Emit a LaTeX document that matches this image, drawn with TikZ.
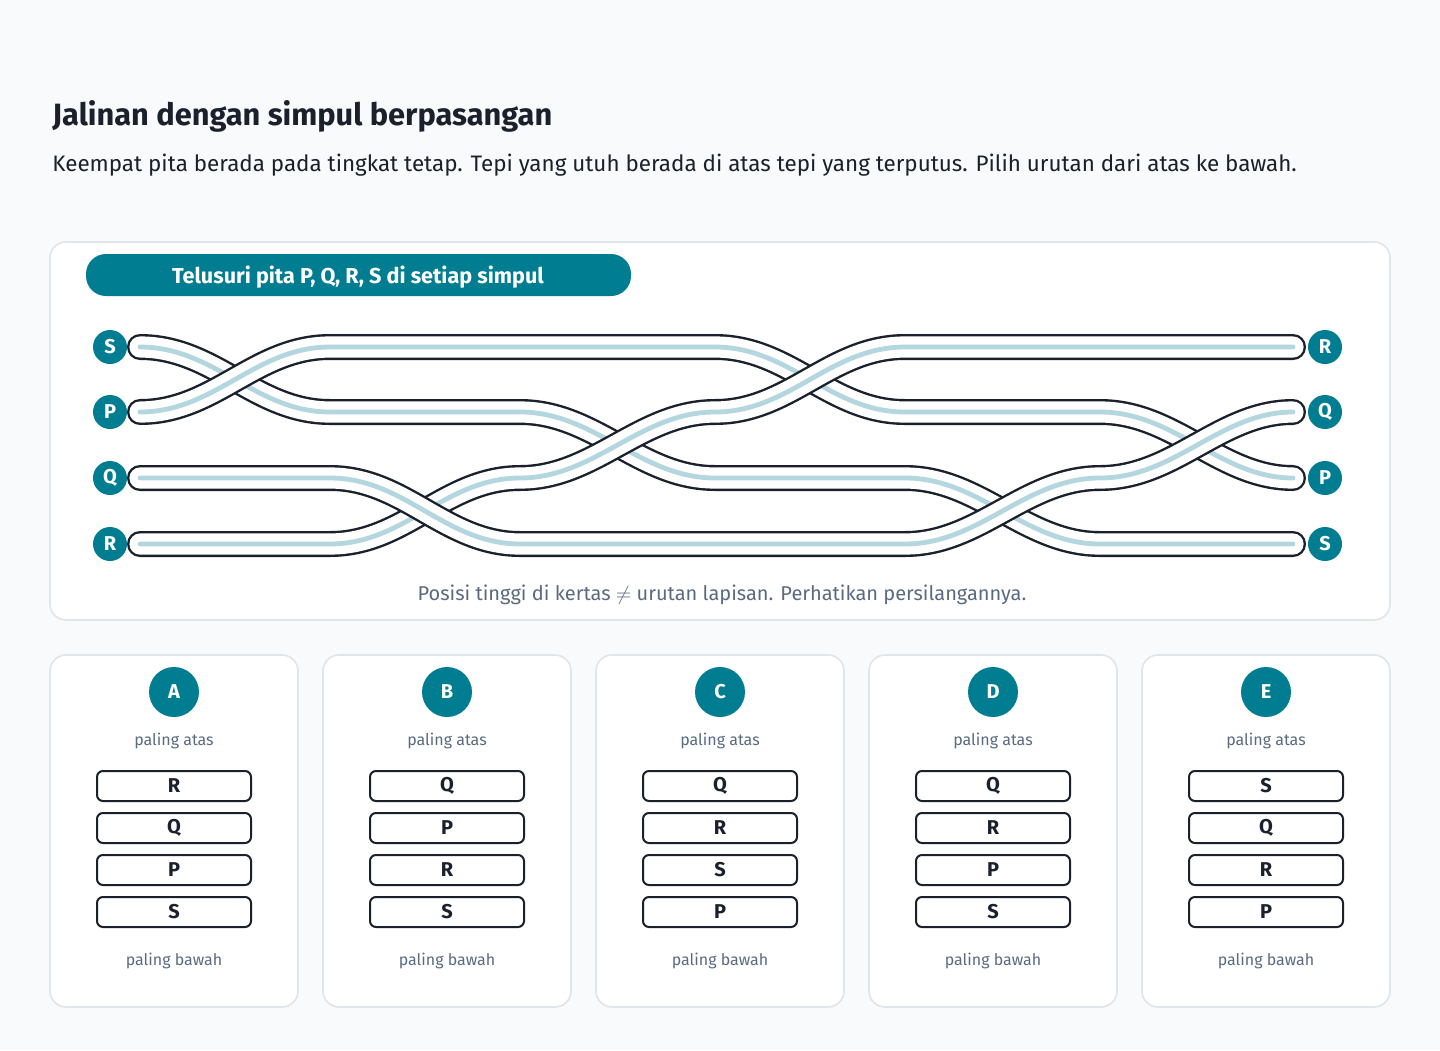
\documentclass[tikz,border=0pt]{standalone}
\usepackage{fontspec}
\setmainfont{Fira Sans}
\definecolor{teal}{RGB}{0,125,145}
\definecolor{ink}{RGB}{26,32,44}
\definecolor{muted}{RGB}{90,107,128}
\definecolor{bgcolor}{RGB}{248,250,252}
\definecolor{rim}{RGB}{222,229,235}
\definecolor{core}{RGB}{180,214,222}
\newcommand{\ribbon}[1]{%
  \draw[rib out] #1; \draw[rib in] #1; \draw[rib mid] #1;}
\begin{document}
\begin{tikzpicture}[x=0.5pt,y=-0.5pt]
\tikzstyle{rib out}=[line width=13pt,ink,line cap=round]
\tikzstyle{rib in}=[line width=10.6pt,white,line cap=round]
\tikzstyle{rib mid}=[line width=2.4pt,core,line cap=round]
\tikzstyle{tag}=[circle,fill=teal,text=white,inner sep=0pt,minimum size=17pt,font=\bfseries\fontsize{10}{12}\selectfont]
\tikzstyle{card}=[draw=rim,line width=0.8pt,fill=white,rounded corners=8pt]
\tikzstyle{slot}=[draw=ink,line width=1pt,rounded corners=3pt,minimum width=77pt,minimum height=15pt,inner sep=0pt,font=\bfseries\fontsize{10}{12}\selectfont,text=ink]
\tikzstyle{note}=[text=muted,font=\fontsize{8}{10}\selectfont]
% background
\fill[bgcolor] (0,0) rectangle (1440,1050);
\node[anchor=west,inner sep=0pt,text=ink,font=\bfseries\fontsize{15.4}{18}\selectfont] (title) at (52,116) {Jalinan dengan simpul berpasangan};
\node[anchor=west,inner sep=0pt,text=ink,font=\fontsize{11.2}{13}\selectfont] (subtitle) at (52,165) {Keempat pita berada pada tingkat tetap. Tepi yang utuh berada di atas tepi yang terputus. Pilih urutan dari atas ke bawah.};
% braid panel
\draw[card] (50,242) rectangle (1390,620);
\fill[teal,rounded corners=10pt] (86,254) rectangle (631,296);
\node[text=white,font=\bfseries\fontsize{10.8}{12}\selectfont] (header) at (358,277) {Telusuri pita P, Q, R, S di setiap simpul};
% ribbons, bottom layer first
\ribbon{(140,347) .. controls (215,347) and (255,412) .. (330,412) -- (520,412)
  .. controls (595,412) and (640,478) .. (715,478) -- (905,478)
  .. controls (980,478) and (1025,544) .. (1100,544) -- (1293,544)}
\ribbon{(140,412) .. controls (215,412) and (255,347) .. (330,347) -- (715,347)
  .. controls (790,347) and (830,412) .. (905,412) -- (1100,412)
  .. controls (1175,412) and (1220,478) .. (1293,478)}
\ribbon{(140,544) -- (330,544) .. controls (405,544) and (445,478) .. (520,478)
  .. controls (595,478) and (640,412) .. (715,412)
  .. controls (790,412) and (830,347) .. (905,347) -- (1293,347)}
\ribbon{(140,478) -- (330,478) .. controls (405,478) and (445,544) .. (520,544) -- (905,544)
  .. controls (980,544) and (1025,478) .. (1100,478)
  .. controls (1175,478) and (1220,412) .. (1293,412)}
\node[tag] (lS) at (110,347) {S};
\node[tag] (lP) at (110,412) {P};
\node[tag] (lQ) at (110,478) {Q};
\node[tag] (lR) at (110,544) {R};
\node[tag] (rR) at (1325,347) {R};
\node[tag] (rQ) at (1325,412) {Q};
\node[tag] (rP) at (1325,478) {P};
\node[tag] (rS) at (1325,544) {S};
\node[text=muted,font=\fontsize{10}{12}\selectfont] (caption) at (722,595) {Posisi tinggi di kertas $\neq$ urutan lapisan. Perhatikan persilangannya.};
% answer cards
\foreach \name/\a/\b/\c/\d [count=\i from 0] in {A/R/Q/P/S,B/Q/P/R/S,C/Q/R/S/P,D/Q/R/P/S,E/S/Q/R/P}{
  \pgfmathsetmacro{\cx}{174+273*\i}
  \draw[card] (\cx-124,655) rectangle (\cx+124,1007);
  \node[tag,minimum size=25pt] (opt\name) at (\cx,692) {\name};
  \node[note] (top\name) at (\cx,741) {paling atas};
  \node[slot] (s1\name) at (\cx,786) {\a};
  \node[slot] (s2\name) at (\cx,828) {\b};
  \node[slot] (s3\name) at (\cx,870) {\c};
  \node[slot] (s4\name) at (\cx,912) {\d};
  \node[note] (bot\name) at (\cx,961) {paling bawah};
}
\end{tikzpicture}
\end{document}
